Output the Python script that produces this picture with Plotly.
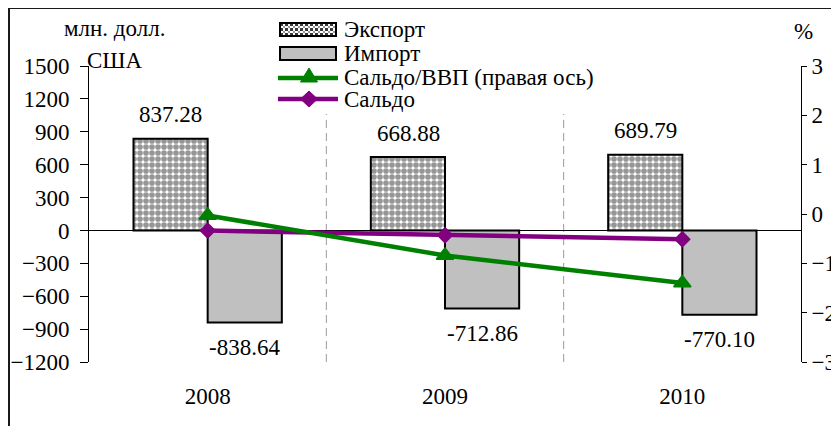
import base64
import plotly.graph_objects as go

# --- data ---
years = ["2008", "2009", "2010"]
export_vals = [837.28, 668.88, 689.79]
import_vals = [-838.64, -712.86, -770.10]
saldo_vals = [-1.36, -43.98, -80.31]
saldo_gdp = [-0.03, -0.84, -1.40]

legend_names = ["Экспорт", "Импорт", "Сальдо/ВВП (правая ось)", "Сальдо"]

FONT = '"Liberation Serif", "Times New Roman", Times, "DejaVu Serif", serif'
FS = 23

# target positions in screen pixels; the page body adds an 8px offset
W, H = 839, 426
OFF = 8
L, R, T, B = 89, 801, 66, 362


def fx(p):
    return (p - L) / (R - L)


def fy(p):
    return (B - p) / (B - T)


fig = go.Figure()

fig.add_trace(go.Bar(
    x=years, y=export_vals, name=legend_names[0],
    marker=dict(color="white", line=dict(color="black", width=2),
                pattern=dict(shape=".", fgcolor="#2e2e2e", bgcolor="white",
                             size=6, solidity=0.7)),
))
fig.add_trace(go.Bar(
    x=years, y=import_vals, name=legend_names[1],
    marker=dict(color="#c0c0c0", line=dict(color="black", width=2)),
))
fig.add_trace(go.Scatter(
    x=years, y=saldo_gdp, name=legend_names[2], yaxis="y2", mode="lines+markers",
    line=dict(color="#008000", width=4.5),
    marker=dict(symbol="triangle-up", size=15, color="#008000",
                line=dict(color="#008000", width=1.5)),
))
fig.add_trace(go.Scatter(
    x=years, y=saldo_vals, name=legend_names[3], mode="lines+markers",
    line=dict(color="#800080", width=4.5),
    marker=dict(symbol="diamond", size=13, color="#800080"),
))

txt_font = dict(family=FONT, size=FS, color="black")

# data labels (x given as category index)
annotations = []
for i, v in enumerate(export_vals):
    annotations.append(dict(x=i, y=v, xref="x", yref="y", text=f"{v:.2f}",
                            showarrow=False, xshift=-37, yshift=24,
                            xanchor="center", yanchor="middle", font=txt_font))
for i, v in enumerate(import_vals):
    annotations.append(dict(x=i, y=v, xref="x", yref="y", text=f"{v:.2f}",
                            showarrow=False, xshift=37, yshift=-25,
                            xanchor="center", yanchor="middle", font=txt_font))

# axis titles
for text, ax, ay in [("млн. долл.", 114, 28), ("США", 115, 60), ("%", 803, 32)]:
    annotations.append(dict(x=fx(ax), y=fy(ay), xref="paper", yref="paper", text=text,
                            showarrow=False, xanchor="center", yanchor="middle",
                            font=txt_font))

# legend texts
leg_y = [30, 54, 77, 99]
for name, yy in zip(legend_names, leg_y):
    annotations.append(dict(x=fx(342), y=fy(yy), xref="paper", yref="paper",
                            text=name, showarrow=False, xanchor="left",
                            yanchor="middle", font=txt_font))


def rect(x0, y0, x1, y1, **kw):
    return dict(type="rect", xref="paper", yref="paper",
                x0=fx(x0), x1=fx(x1), y0=fy(y0), y1=fy(y1), **kw)


def path(pts, **kw):
    d = "M" + "L".join(f"{fx(a)},{fy(b)}" for a, b in pts) + "Z"
    return dict(type="path", xref="paper", yref="paper", path=d, **kw)


shapes = [
    # outer frame (extends past the picture on right and bottom)
    rect(9, 8, 860, 450, line=dict(color="#1a1a1a", width=2)),
    # export swatch border (pattern image added below)
    rect(280, 23, 336, 36, line=dict(color="black", width=2)),
    # import swatch
    rect(280, 47, 336, 60, line=dict(color="black", width=2), fillcolor="#c0c0c0"),
    # saldo/gdp line + triangle
    dict(type="line", xref="paper", yref="paper", x0=fx(278), x1=fx(338),
         y0=fy(78), y1=fy(78), line=dict(color="#008000", width=4.5)),
    path([(309, 68), (317.5, 82), (300.5, 82)], fillcolor="#008000",
         line=dict(color="#008000", width=1)),
    # saldo line + diamond
    dict(type="line", xref="paper", yref="paper", x0=fx(278), x1=fx(338),
         y0=fy(99), y1=fy(99), line=dict(color="#800080", width=4.5)),
    path([(309, 91), (317.5, 99), (309, 107), (300.5, 99)], fillcolor="#800080",
         line=dict(color="#800080", width=1)),
]
# dashed separators between the year groups (stop under the legend)
for k in range(len(years) - 1):
    shapes.append(dict(type="line", xref="x", yref="paper", x0=k + 0.5, x1=k + 0.5,
                       y0=0, y1=fy(114), layer="below",
                       line=dict(color="#9a9a9a", width=1, dash="8px,5px")))

svg = ('<svg xmlns="http://www.w3.org/2000/svg" width="56" height="13">'
       '<defs><pattern id="p" width="5" height="5" patternUnits="userSpaceOnUse">'
       '<rect width="5" height="5" fill="#fff"/>'
       '<rect width="3" height="3" fill="#3a3a3a"/>'
       '<rect x="3" y="3" width="2" height="2" fill="#999"/>'
       '</pattern></defs><rect width="56" height="13" fill="url(#p)"/></svg>')
swatch = "data:image/svg+xml;base64," + base64.b64encode(svg.encode()).decode()

fig.update_layout(
    width=W, height=H,
    margin=dict(l=L - OFF, r=W - (R - OFF), t=T - OFF, b=H - (B - OFF)),
    paper_bgcolor="white", plot_bgcolor="white",
    barmode="group", bargap=0.375, bargroupgap=0,
    font=txt_font,
    showlegend=False,
    annotations=annotations,
    shapes=shapes,
    images=[dict(source=swatch, xref="paper", yref="paper",
                 x=fx(280), y=fy(23), sizex=fx(336) - fx(280), sizey=fy(23) - fy(36),
                 xanchor="left", yanchor="top", sizing="stretch", layer="above")],
    xaxis=dict(type="category", range=[-0.5, 2.5], showline=False, ticks="",
               showgrid=False, zeroline=False, automargin=False, tickangle=0,
               ticklabelstandoff=18, tickfont=txt_font),
    yaxis=dict(range=[-1200, 1500], dtick=300, tick0=0, showgrid=False,
               showline=True, linecolor="black", linewidth=1,
               ticks="outside", ticklen=8, tickcolor="black",
               zeroline=True, zerolinecolor="black", zerolinewidth=1,
               automargin=False, ticklabelstandoff=6, tickfont=txt_font),
    yaxis2=dict(range=[-3, 3], dtick=1, overlaying="y", side="right", showgrid=False,
                showline=True, linecolor="black", linewidth=1,
                ticks="outside", ticklen=5, tickcolor="black", zeroline=False,
                automargin=False, tickfont=txt_font),
)

fig.write_html("out.html")
